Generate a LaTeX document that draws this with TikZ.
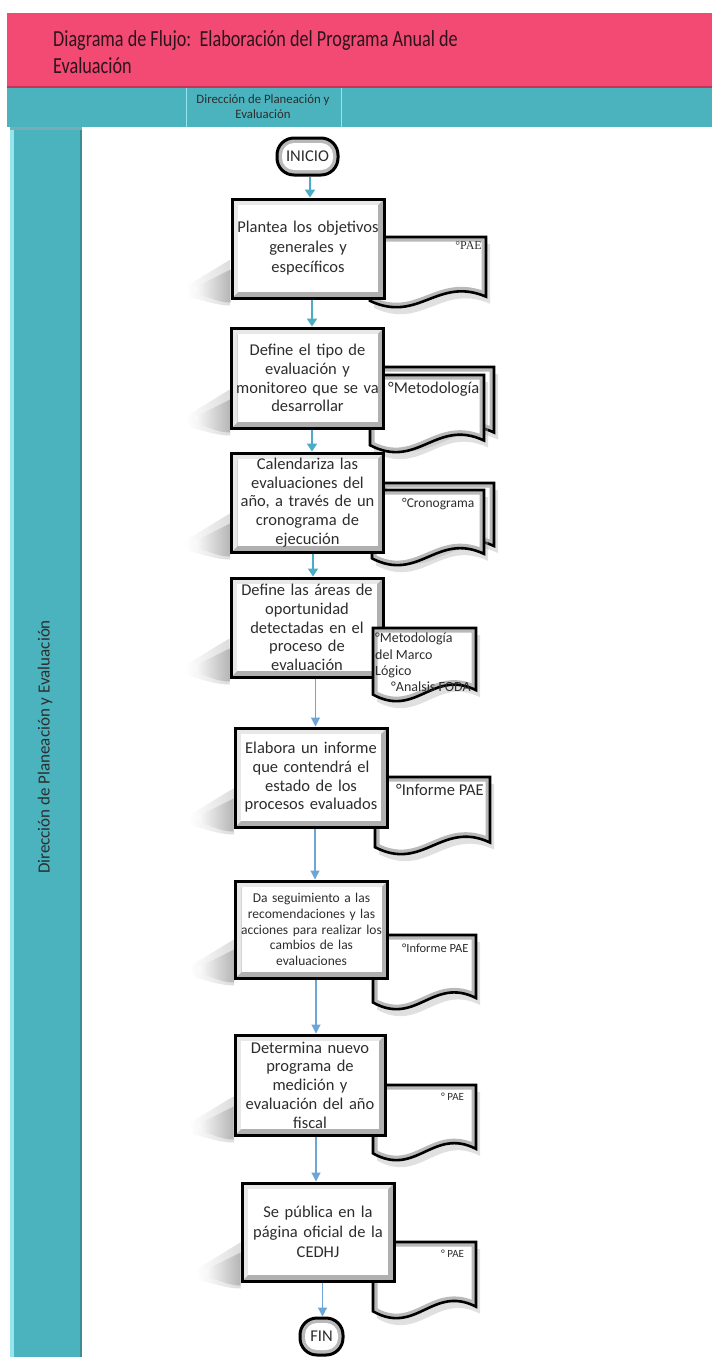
\documentclass[tikz,border=0pt]{standalone}
\usepackage{fontspec}
\setmainfont{Carlito}
\newfontfamily\serifdoc{Liberation Serif}
\usetikzlibrary{arrows.meta,calc,shapes.misc}

\definecolor{hdrpink}{RGB}{242,74,114}
\definecolor{hdrpinkdark}{RGB}{200,50,85}
\definecolor{laneteal}{RGB}{75,179,190}
\definecolor{laneedge}{RGB}{150,228,238}
\definecolor{lanedark}{RGB}{60,140,150}
\definecolor{txtgray}{RGB}{45,45,45}
\definecolor{titlecol}{RGB}{45,20,28}
\definecolor{arrteal}{RGB}{75,172,198}
\definecolor{arrblue}{RGB}{110,165,215}

\pgfdeclarelayer{back}
\pgfdeclarelayer{shadow}
\pgfsetlayers{back,shadow,main}

% wavy document outline: x1, top y, x2, bottom y (pixel values, y downwards)
\newcommand\docshape[5][]{%
  \pgfmathsetmacro\dsXa{#2}\pgfmathsetmacro\dsYa{-(#3)}%
  \pgfmathsetmacro\dsXb{#4}\pgfmathsetmacro\dsYb{-(#5)}%
  \pgfmathsetmacro\dsH{\dsYa-\dsYb}\pgfmathsetmacro\dsW{\dsXb-\dsXa}%
  \path[#1] (\dsXa,\dsYa) -- (\dsXb,\dsYa) -- (\dsXb,\dsYb+0.16*\dsH)
    .. controls (\dsXb-0.42*\dsW,\dsYb+0.45*\dsH) and (\dsXa+0.42*\dsW,\dsYb-0.22*\dsH)
    .. (\dsXa,\dsYb+0.1*\dsH) -- cycle;}

% one document page with drop shadow, bevel and border
\newcommand\docpage[4]{%
  \docshape[fill=gray!60, opacity=.4, shift={(4,-7)}]{#1}{#2}{#3}{#4}
  \begin{scope}
    \docshape[fill=white]{#1}{#2}{#3}{#4}
    \docshape[clip]{#1}{#2}{#3}{#4}
    \docshape[draw=gray!55, line width=9pt]{#1}{#2}{#3}{#4}
  \end{scope}
  \docshape[draw=black, line width=2.6pt]{#1}{#2}{#3}{#4}}

\tikzset{
  x=1pt, y=1pt,
  bevel/.style={path picture={
      \coordinate (bvSW) at (path picture bounding box.south west);
      \coordinate (bvNE) at (path picture bounding box.north east);
      \coordinate (bvNW) at (bvSW |- bvNE);
      \fill[gray!62] (bvSW) rectangle (bvNE);
      \fill[gray!18] (bvSW) -- (bvNW) -- (bvNE) -- ([shift={(-6,-6)}]bvNE)
        -- ([shift={(6,-6)}]bvNW) -- ([shift={(6,6)}]bvSW) -- cycle;
      \fill[white] ([shift={(6,6)}]bvSW) rectangle ([shift={(-6,-6)}]bvNE);}},
  termbevel/.style={path picture={
      \coordinate (bvSW) at (path picture bounding box.south west);
      \coordinate (bvNE) at (path picture bounding box.north east);
      \fill[gray!55] (bvSW) rectangle (bvNE);
      \fill[white, rounded corners=12pt] ([shift={(5,5)}]bvSW) rectangle ([shift={(-5,-5)}]bvNE);}},
  procbox/.style={rectangle, draw=black, line width=3pt, fill=white, bevel,
    inner sep=3pt, minimum width=152pt, text width=146pt, minimum height=99pt,
    align=center, text=txtgray},
  bigtext/.style={font=\fontsize{16.5}{18.7}\selectfont},
  roomytext/.style={font=\fontsize{16.5}{20}\selectfont},
  smalltext/.style={font=\fontsize{13.5}{15.7}\selectfont},
  termbox/.style={rectangle, rounded corners=17pt, draw=black, line width=3pt,
    fill=white, termbevel, minimum height=37pt, inner sep=2pt, text=txtgray,
    font=\fontsize{16.5}{18}\selectfont},
  doctext/.style={inner sep=0pt, text=txtgray},
  flowA/.style={draw=arrteal, line width=2.2pt, -{Triangle[length=8pt,width=10pt]}},
  flowB/.style={draw=arrblue, line width=1.1pt, -{Triangle[length=9pt,width=9pt]}},
}

\begin{document}
\begin{tikzpicture}
\useasboundingbox (0,0) rectangle (712,-1357);

% page frame: title bar, lane header and swimlane column
\begin{pgfonlayer}{back}
  \fill[white] (0,0) rectangle (712,-1357);
  \fill[hdrpink] (7,-13) rectangle (712,-88);
  \fill[hdrpinkdark] (7,-86) rectangle (712,-88);
  \fill[laneteal] (7,-88) rectangle (712,-127);
  \draw[laneedge, line width=0.8pt] (186,-88) -- (186,-127);
  \draw[laneedge, line width=0.8pt] (341,-88) -- (341,-127);
  \fill[laneteal] (10,-127) rectangle (82,-1357);
  \fill[laneedge] (10,-127) rectangle (14,-1357);
  \fill[lanedark] (80,-127) rectangle (82,-1357);
  \fill[lanedark!70] (10,-127) rectangle (82,-130);
\end{pgfonlayer}

\node[anchor=north west, inner sep=0pt, text=titlecol, align=left] (title) at (53,-27)
  {\scalebox{0.79}[1]{\fontsize{23}{27}\selectfont\begin{tabular}{@{}l@{}}Diagrama de Flujo:\ \ Elaboración del Programa Anual de\\Evaluación\end{tabular}}};
\node[align=center, text=txtgray, font=\fontsize{12.8}{15}\selectfont] (lanehead) at (263,-107)
  {Dirección de Planeación y\\Evaluación};
\node[rotate=90, text=txtgray, font=\fontsize{17}{20}\selectfont] (lanename) at (45,-747)
  {Dirección de Planeación y Evaluación};

% documents produced by each step (behind their step boxes)
\docpage{370}{237}{486}{308}
\docpage{380}{367}{494}{445}
\docpage{370}{375}{484}{453}
\docpage{382}{483}{494}{558}
\docpage{372}{490}{484}{566}
\docpage{375}{777}{490}{855}
\docpage{373}{935}{476}{1010}
\docpage{373}{1085}{476}{1161}
\docpage{373}{1242}{476}{1319}

\node[doctext, anchor=north east, font=\serifdoc\fontsize{12}{14}\selectfont] (d1) at (482,-241) {°PAE};
\node[doctext, anchor=west, font=\fontsize{16.5}{18}\selectfont] (d2) at (388,-389) {°Metodología};
\node[doctext, anchor=west, font=\fontsize{13.5}{15}\selectfont] (d3) at (402,-504) {°Cronograma};
\node[doctext, anchor=west, font=\fontsize{16.5}{18}\selectfont] (d5) at (396,-790) {°Informe PAE};
\node[doctext, anchor=west, font=\fontsize{12.5}{14}\selectfont] (d6) at (402,-948) {°Informe PAE};
\node[doctext, anchor=west, font=\fontsize{11}{13}\selectfont] (d7) at (441,-1097) {° PAE};
\node[doctext, anchor=west, font=\fontsize{11}{13}\selectfont] (d8) at (441,-1254) {° PAE};

% flow steps
\node[termbox, minimum width=61pt] (ini) at (307.5,-156.5) {INICIO};
\node[procbox, roomytext] (p1) at (308,-248.5) {Plantea los objetivos\\generales y\\específicos};
\node[procbox, bigtext, minimum height=100pt] (p2) at (307.5,-378) {Define el tipo de\\evaluación y\\monitoreo que se va\\desarrollar};
\node[procbox, bigtext] (p3) at (307.5,-502.5) {Calendariza las\\evaluaciones del\\año, a través de un\\cronograma de\\ejecución};
\node[procbox, bigtext] (p4) at (307,-627.5) {Define las áreas de\\oportunidad\\detectadas en el\\proceso de\\evaluación};
\node[procbox, bigtext] (p5) at (311,-777.5) {Elabora un informe\\que contendrá el\\estado de los\\procesos evaluados};
\node[procbox, smalltext, minimum height=97pt] (p6) at (311.5,-929.5) {Da seguimiento a las\\recomendaciones y las\\acciones para realizar los\\cambios de las\\evaluaciones};
\node[procbox, bigtext, minimum height=100pt, minimum width=150pt, text width=144pt] (p7) at (310,-1085) {Determina nuevo\\programa de\\medición y\\evaluación del año\\fiscal};
\node[procbox, roomytext, minimum height=98pt] (p8) at (318,-1232) {Se pública en la\\página oficial de la\\CEDHJ};
\node[termbox, minimum width=43pt] (fin) at (321.5,-1336.5) {FIN};

% this document sits in front of its step box
\docpage{373}{628}{476}{702}
\node[doctext, anchor=north west, align=left, font=\fontsize{14}{16.3}\selectfont] (d4) at (375,-633)
  {°Metodología\\del Marco\\Lógico\\\hspace*{16pt}°Analsis FODA};

% soft shadows cast to the lower left of each step
\begin{pgfonlayer}{shadow}
  \foreach \n in {p1,p2,p3,p4,p5,p6,p7,p8}{
    \shade[left color=white, right color=gray!45, opacity=.6]
      ([yshift=40pt]\n.south west) .. controls +(-14,-8) and +(12,6) .. ([shift={(-44,14)}]\n.south west)
      -- ([shift={(-40,2)}]\n.south west) .. controls +(14,-3) and +(-14,0) .. ([yshift=-6pt]\n.south west) -- cycle;
    \shade[left color=white, right color=gray!70, opacity=.7]
      ([yshift=30pt]\n.south west) .. controls +(-12,-6) and +(10,5) .. ([shift={(-36,12)}]\n.south west)
      -- ([shift={(-32,5)}]\n.south west) .. controls +(12,-3) and +(-12,0) .. ([yshift=-3pt]\n.south west) -- cycle;
  }
\end{pgfonlayer}

% connectors
\draw[flowA] ([xshift=2.5pt]ini.south) -- ([xshift=2pt]p1.north);
\draw[flowA] ([xshift=4pt]p1.south) -- ([xshift=4.5pt]p2.north);
\draw[flowA] ([xshift=4.5pt]p2.south) -- ([xshift=4.5pt]p3.north);
\draw[flowA] ([xshift=5.5pt]p3.south) -- ([xshift=6pt]p4.north);
\draw[flowB] ([xshift=8.5pt]p4.south) -- ([xshift=4.5pt]p5.north);
\draw[flowB] ([xshift=4pt]p5.south) -- ([xshift=3.5pt]p6.north);
\draw[flowB] ([xshift=4.5pt]p6.south) -- ([xshift=6pt]p7.north);
\draw[flowB] ([xshift=6pt]p7.south) -- ([xshift=-2pt]p8.north);
\draw[flowB] ([xshift=4.5pt]p8.south) -- ([xshift=1pt]fin.north);
\end{tikzpicture}
\end{document}
